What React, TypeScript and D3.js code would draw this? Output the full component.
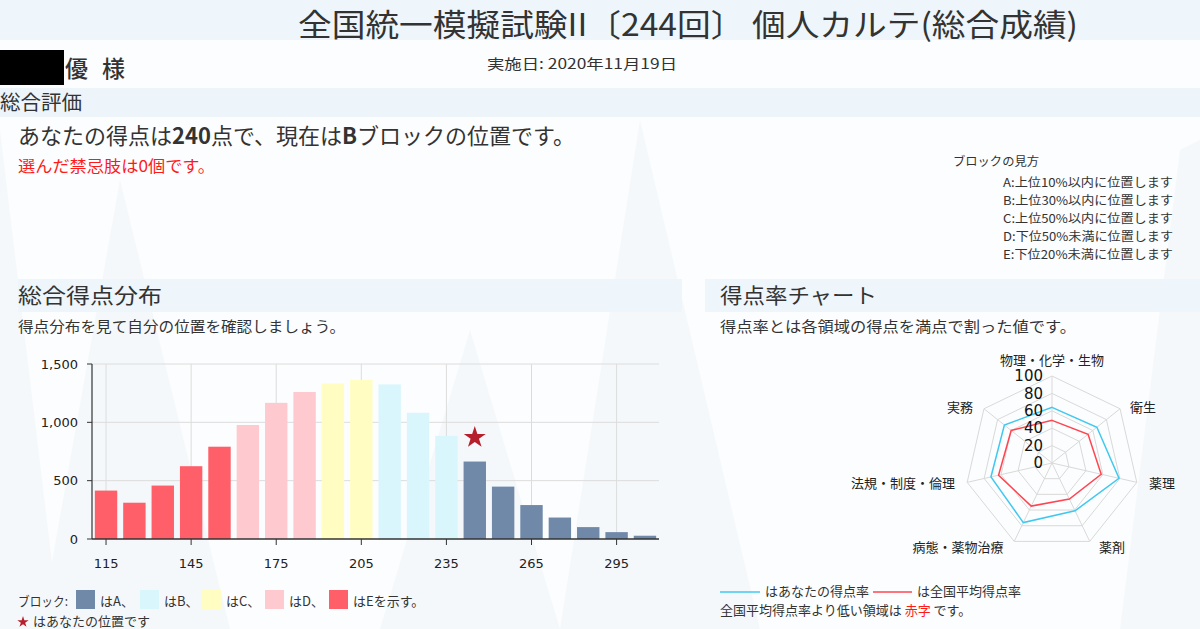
import React from "react";
import * as d3 from "d3";

const bins = [115, 125, 135, 145, 155, 165, 175, 185, 195, 205, 215, 225, 235, 245, 255, 265, 275, 285, 295, 305];
const counts = [415, 311, 458, 624, 791, 977, 1167, 1260, 1333, 1364, 1325, 1082, 884, 664, 449, 291, 184, 102, 59, 28];
const blocks = ["E", "E", "E", "E", "E", "D", "D", "D", "C", "C", "B", "B", "B", "A", "A", "A", "A", "A", "A", "A"];
const xTicks = [115, 145, 175, 205, 235, 265, 295];
const yTicks = [0, 500, 1000, 1500];
const starBin = 245;
const starValue = 870;

const radarAxes = ["物理・化学・生物", "衛生", "薬理", "薬剤", "病態・薬物治療", "法規・制度・倫理", "実務"];
const yourRates = [64, 66, 79, 61, 76, 72, 70];
const avgRates = [49, 53, 58, 46, 55, 63, 60];
const radarTicks = [0, 20, 40, 60, 80, 100];

const blockLegend = ["A", "B", "C", "D", "E"];
const blockGuide = [
  "A:上位10%以内に位置します",
  "B:上位30%以内に位置します",
  "C:上位50%以内に位置します",
  "D:下位50%未満に位置します",
  "E:下位20%未満に位置します",
];

const blockColors: Record<string, string> = {
  A: "#7189a9",
  B: "#d9f6fd",
  C: "#fffdc2",
  D: "#ffc9d0",
  E: "#ff5f68",
};

const JP = "'Noto Sans CJK JP', 'Noto Sans', sans-serif";
const NUM = "'DejaVu Sans', sans-serif";
const TXT = "#333";

export default function App() {
  const x = d3.scaleBand<number>().domain(bins).range([92, 659]).paddingInner(0.21).paddingOuter(0.1);
  const y = d3.scaleLinear().domain([0, 1500]).range([539, 364]);
  const cx = (b: number) => (x(b) as number) + x.bandwidth() / 2;
  const star = d3.symbol().type(d3.symbolStar).size(150)();

  const rcx = 1052, rcy = 463;
  const r = d3.scaleLinear().domain([0, 100]).range([0, 87]);
  const n = radarAxes.length;
  const ang = (i: number) => (i * 2 * Math.PI) / n;
  const radial = d3.lineRadial<number>().angle((_, i) => ang(i)).radius((d) => r(d)).curve(d3.curveLinearClosed);
  const pt = (i: number, v: number) => [rcx + Math.sin(ang(i)) * r(v), rcy - Math.cos(ang(i)) * r(v)];
  const labelPos = [
    { dx: 0, dy: -103, anchor: "middle" },
    { dx: 91, dy: -56, anchor: "middle" },
    { dx: 110, dy: 20, anchor: "middle" },
    { dx: 60, dy: 84, anchor: "middle" },
    { dx: -94, dy: 84, anchor: "middle" },
    { dx: -97, dy: 20, anchor: "end" },
    { dx: -92, dy: -56, anchor: "middle" },
  ];

  return (
    <svg width={1200} height={629} style={{ position: "absolute", left: 0, top: 0, background: "#fcfdfe" }}>
      <g fill="#f5f8fa">
        <polygon points="0,130 60,629 0,629" />
        <polygon points="120,180 230,629 40,629" />
        <polygon points="470,330 560,629 380,629" />
        <polygon points="640,120 760,629 560,629" />
        <polygon points="1180,150 1200,140 1200,629 1120,629" />
      </g>

      <rect x={0} y={0} width={1200} height={40} fill="#eff6fb" />
      <text x={298} y={36} fontFamily={JP} fontSize={31} fill={TXT} textLength={780} lengthAdjust="spacingAndGlyphs">
        全国統一模擬試験II〔244回〕 個人カルテ(総合成績)
      </text>

      <rect x={0} y={50} width={64} height={35} fill="#000" />
      <text x={65} y={77} fontFamily={JP} fontSize={23} fontWeight={500} fill={TXT} textLength={60} lengthAdjust="spacing">優 様</text>
      <text x={487} y={69} fontFamily={JP} fontSize={14} fill={TXT} textLength={190} lengthAdjust="spacingAndGlyphs">実施日: 2020年11月19日</text>

      <rect x={0} y={88} width={1200} height={29} fill="#edf5fb" />
      <text x={0} y={110} fontFamily={JP} fontSize={20} fill={TXT} textLength={82} lengthAdjust="spacingAndGlyphs">総合評価</text>

      <text x={18} y={144} fontFamily={JP} fontSize={22} fill={TXT}>
        あなたの得点は<tspan fontWeight={700}>240</tspan>点で、現在は<tspan fontWeight={700}>B</tspan>ブロックの位置です。
      </text>
      <text x={18} y={172} fontFamily={JP} fontSize={16} fill="#ff1a1a" textLength={197} lengthAdjust="spacingAndGlyphs">選んだ禁忌肢は0個です。</text>

      <text x={953} y={166} fontFamily={JP} fontSize={12} fill={TXT} textLength={86} lengthAdjust="spacingAndGlyphs">ブロックの見方</text>
      {blockGuide.map((t, i) => (
        <text key={t} x={1003} y={187 + i * 18} fontFamily={JP} fontSize={12} fill={TXT} textLength={170} lengthAdjust="spacingAndGlyphs">{t}</text>
      ))}

      <rect x={18} y={279} width={664} height={33} fill="#eef5fb" />
      <text x={18} y={303} fontFamily={JP} fontSize={21} fill={TXT} textLength={144} lengthAdjust="spacingAndGlyphs">総合得点分布</text>
      <text x={18} y={332} fontFamily={JP} fontSize={15} fill={TXT} textLength={327} lengthAdjust="spacingAndGlyphs">得点分布を見て自分の位置を確認しましょう。</text>

      <rect x={705} y={279} width={495} height={33} fill="#eef5fb" />
      <text x={720} y={303} fontFamily={JP} fontSize={21} fill={TXT} textLength={157} lengthAdjust="spacingAndGlyphs">得点率チャート</text>
      <text x={720} y={332} fontFamily={JP} fontSize={15} fill={TXT} textLength={356} lengthAdjust="spacingAndGlyphs">得点率とは各領域の得点を満点で割った値です。</text>

      <g>
        {yTicks.filter((t) => t > 0).map((t) => (
          <line key={t} x1={92} x2={659} y1={y(t)} y2={y(t)} stroke="#dcdcdc" />
        ))}
        {xTicks.map((t) => (
          <line key={t} x1={cx(t)} x2={cx(t)} y1={y(1500)} y2={y(0)} stroke="#dcdcdc" />
        ))}
        {bins.map((b, i) => (
          <rect key={b} x={x(b)} y={y(counts[i])} width={x.bandwidth()} height={y(0) - y(counts[i])} fill={blockColors[blocks[i]]} />
        ))}
        <path d={star as string} transform={`translate(${cx(starBin)},${y(starValue)})`} fill="#b5202c" />
        <line x1={92} x2={92} y1={y(1500)} y2={y(0)} stroke="#333" strokeWidth={1.2} />
        <line x1={92} x2={659} y1={y(0)} y2={y(0)} stroke="#333" strokeWidth={1.5} />
        {yTicks.map((t) => (
          <g key={t}>
            <line x1={87} x2={92} y1={y(t)} y2={y(t)} stroke="#333" />
            <text x={78} y={y(t)} dy="0.35em" textAnchor="end" fontFamily={NUM} fontSize={13} fill="#222">{d3.format(",")(t)}</text>
          </g>
        ))}
        {xTicks.map((t) => (
          <g key={t}>
            <line x1={cx(t)} x2={cx(t)} y1={y(0)} y2={y(0) + 6} stroke="#333" />
            <text x={cx(t)} y={568} textAnchor="middle" fontFamily={NUM} fontSize={13} fill="#222">{t}</text>
          </g>
        ))}
      </g>

      <text x={18} y={606} fontFamily={JP} fontSize={13} fill={TXT} textLength={50} lengthAdjust="spacingAndGlyphs">ブロック:</text>
      {blockLegend.map((b, i) => {
        const lx = [76, 140, 202, 265, 329][i];
        const label = b === "E" ? "はEを示す。" : `は${b}、`;
        return (
          <g key={b}>
            <rect x={lx} y={590} width={19} height={19} fill={blockColors[b]} />
            <text x={lx + 24} y={606} fontFamily={JP} fontSize={13} fill={TXT}>{label}</text>
          </g>
        );
      })}
      <path d={d3.symbol().type(d3.symbolStar).size(40)() as string} transform="translate(23,622)" fill="#b5202c" />
      <text x={33} y={626} fontFamily={JP} fontSize={13} fill={TXT}>はあなたの位置です</text>

      <g>
        {radarTicks.filter((t) => t > 0).map((t) => (
          <polygon key={t} points={radarAxes.map((_, i) => pt(i, t).join(",")).join(" ")} fill="none" stroke="#d9d9d9" />
        ))}
        {radarAxes.map((a, i) => {
          const [ex, ey] = pt(i, 100);
          return <line key={a} x1={rcx} y1={rcy} x2={ex} y2={ey} stroke="#d9d9d9" />;
        })}
        <path d={radial(avgRates) as string} transform={`translate(${rcx},${rcy})`} fill="none" stroke="#ff4550" strokeWidth={1.5} />
        <path d={radial(yourRates) as string} transform={`translate(${rcx},${rcy})`} fill="none" stroke="#40c8f0" strokeWidth={1.5} />
        {radarTicks.map((t) => (
          <text key={t} x={rcx - 9} y={rcy - r(t)} dy="0.35em" textAnchor="end" fontFamily={NUM} fontSize={15} fill="#111">{t}</text>
        ))}
        {radarAxes.map((a, i) => (
          <text key={a} x={rcx + labelPos[i].dx} y={rcy + labelPos[i].dy} dy="0.35em" textAnchor={labelPos[i].anchor} fontFamily={JP} fontSize={13} fill="#222">{a}</text>
        ))}
      </g>

      <line x1={720} x2={760} y1={592} y2={592} stroke="#40c8f0" strokeWidth={1.5} />
      <text x={765} y={596} fontFamily={JP} fontSize={13} fill={TXT}>はあなたの得点率</text>
      <line x1={873} x2={912} y1={592} y2={592} stroke="#ff4550" strokeWidth={1.5} />
      <text x={917} y={596} fontFamily={JP} fontSize={13} fill={TXT}>は全国平均得点率</text>
      <text x={720} y={615} fontFamily={JP} fontSize={13} fill={TXT}>
        全国平均得点率より低い領域は <tspan fill="#ff1a1a">赤字</tspan> です。
      </text>
    </svg>
  );
}
